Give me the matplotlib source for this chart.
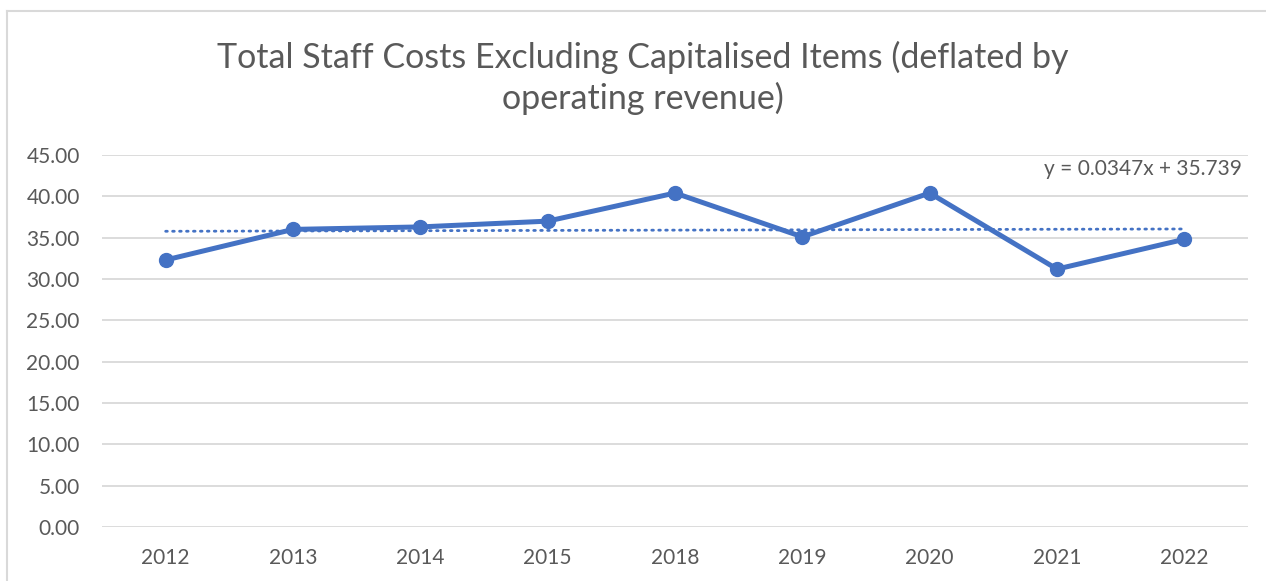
import numpy as np
import matplotlib
matplotlib.use('Agg')
import matplotlib.pyplot as plt
from matplotlib.lines import Line2D

plt.rcParams['font.family'] = ['Lato', 'DejaVu Sans']

# data
years = ['2012', '2013', '2014', '2015', '2018', '2019', '2020', '2021', '2022']
staff_costs = [32.3, 36.0, 36.3, 37.0, 40.4, 35.1, 40.4, 31.2, 34.8]

# linear trendline as shown on the chart
trend_slope = 0.0347
trend_intercept = 35.739
trend_label = 'y = 0.0347x + 35.739'

title = 'Total Staff Costs Excluding Capitalised Items (deflated by\noperating revenue)'
y_ticks = np.arange(0, 46, 5)

blue = '#4472C4'
grid_grey = '#D9D9D9'
text_grey = '#595959'

fig = plt.figure(figsize=(12.66, 5.81), dpi=100)
ax = fig.add_axes([102 / 1266, 1 - 527 / 581, (1248 - 102) / 1266, (527 - 155) / 581])

x = np.arange(1, len(years) + 1)
ax.plot(x, staff_costs, color=blue, linewidth=3.6, marker='o', markersize=10,
        solid_capstyle='round', zorder=3)

# trendline
trend_y = trend_slope * x + trend_intercept
ax.plot(x, trend_y, color=blue, linewidth=2.0, linestyle=(0, (0.6, 1.9)),
        dash_capstyle='round', zorder=2)

ax.set_xlim(0.5, len(years) + 0.5)
ax.set_ylim(0, 45)
ax.set_xticks(x)
ax.set_xticklabels(years)
ax.set_yticks(y_ticks)
ax.set_yticklabels([f'{v:.2f}' for v in y_ticks])
ax.tick_params(axis='both', length=0, labelsize=15, labelcolor=text_grey)
ax.tick_params(axis='x', pad=15)
ax.tick_params(axis='y', pad=16)

ax.grid(axis='y', color=grid_grey, linewidth=1.3)
ax.set_axisbelow(True)
for s in ax.spines.values():
    s.set_visible(False)

ax.text(len(years) + 0.45, 43.3, trend_label, ha='right', va='center',
        fontsize=15, color=text_grey)

fig.text(643 / 1266, 1 - 78 / 581, title, ha='center', va='center', fontsize=24.5,
         color=text_grey, linespacing=1.3)

# chart area border (left and top edges visible)
fig.add_artist(Line2D([7.5 / 1266, 7.5 / 1266], [0, 1 - 10.5 / 581],
                      transform=fig.transFigure, color=grid_grey, linewidth=1.5))
fig.add_artist(Line2D([7.5 / 1266, 1], [1 - 10.5 / 581, 1 - 10.5 / 581],
                      transform=fig.transFigure, color=grid_grey, linewidth=1.5))

fig.savefig('out.png', dpi=100)
